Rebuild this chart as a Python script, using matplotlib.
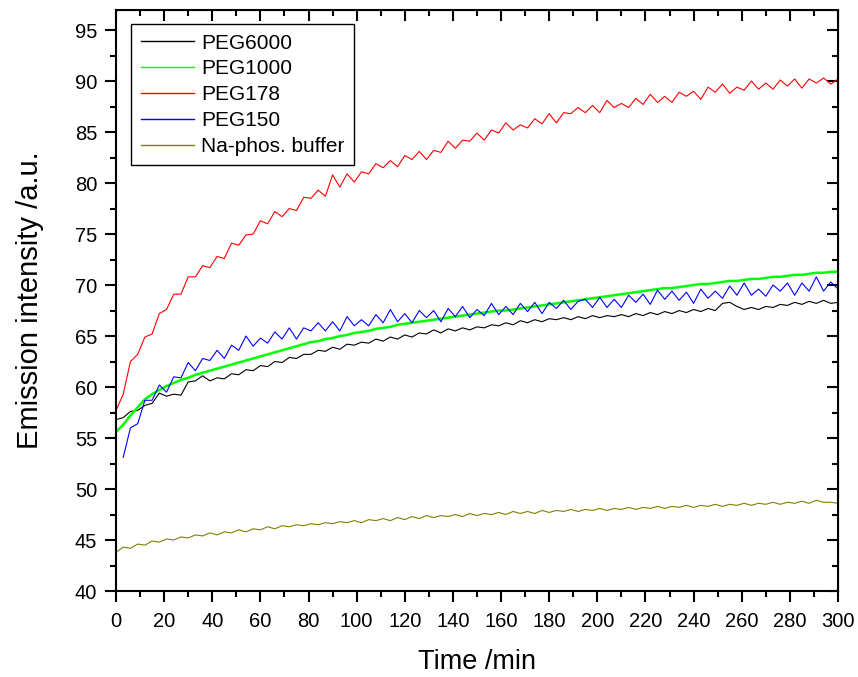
import numpy as np
import matplotlib
matplotlib.use("Agg")
import matplotlib.pyplot as plt
from matplotlib.ticker import MultipleLocator

plt.rcParams["font.family"] = ["Liberation Sans", "DejaVu Sans"]

# sampling times (min), one reading every 3 min
time_min = np.arange(0, 301, 3)

peg6000 = [
    56.8, 57.0, 57.6, 57.7, 58.2, 58.4, 59.4, 59.1, 59.3, 59.2,
    60.5, 60.6, 61.1, 60.6, 60.9, 60.8, 61.3, 61.2, 61.7, 61.6,
    62.1, 62.0, 62.5, 62.4, 62.9, 62.8, 63.2, 63.2, 63.6, 63.5,
    63.9, 63.7, 64.2, 64.1, 64.4, 64.3, 64.7, 64.5, 64.9, 64.7,
    65.1, 64.9, 65.3, 65.2, 65.6, 65.3, 65.7, 65.5, 65.8, 65.6,
    65.9, 65.8, 66.1, 66.0, 66.3, 66.1, 66.5, 66.3, 66.6, 66.4,
    66.7, 66.6, 66.8, 66.6, 66.9, 66.7, 67.0, 66.8, 67.0, 66.9,
    67.1, 66.9, 67.2, 67.0, 67.3, 67.1, 67.4, 67.2, 67.5, 67.3,
    67.6, 67.4, 67.7, 67.5, 68.2, 68.3, 67.9, 67.6, 67.8, 67.6,
    67.9, 67.8, 68.1, 68.0, 68.3, 68.1, 68.4, 68.2, 68.5, 68.2,
    68.3,
]

peg1000 = [
    55.6, 56.3, 57.2, 58.0, 58.8, 59.3, 59.7, 60.1, 60.4, 60.7,
    60.9, 61.2, 61.4, 61.6, 61.8, 62.0, 62.2, 62.4, 62.6, 62.8,
    63.0, 63.2, 63.4, 63.6, 63.8, 64.0, 64.2, 64.4, 64.5, 64.7,
    64.8, 65.0, 65.1, 65.3, 65.4, 65.5, 65.7, 65.8, 65.9, 66.1,
    66.2, 66.3, 66.4, 66.5, 66.6, 66.7, 66.8, 66.9, 67.0, 67.1,
    67.2, 67.3, 67.4, 67.5, 67.5, 67.6, 67.7, 67.8, 67.9, 68.0,
    68.1, 68.2, 68.3, 68.4, 68.5, 68.6, 68.7, 68.8, 68.9, 69.0,
    69.1, 69.2, 69.3, 69.4, 69.5, 69.6, 69.7, 69.7, 69.8, 69.9,
    70.0, 70.1, 70.1, 70.2, 70.3, 70.4, 70.4, 70.5, 70.6, 70.6,
    70.7, 70.8, 70.8, 70.9, 71.0, 71.0, 71.1, 71.2, 71.2, 71.3,
    71.3,
]

peg178 = [
    57.7, 59.3, 62.5, 63.2, 64.9, 65.2, 67.2, 67.6, 69.1, 69.1,
    70.8, 70.8, 71.9, 71.7, 72.8, 72.6, 74.1, 73.9, 74.9, 75.0,
    76.3, 76.0, 77.2, 76.7, 77.5, 77.3, 78.6, 78.5, 79.3, 78.7,
    80.8, 79.6, 80.9, 80.1, 81.1, 80.9, 81.9, 81.5, 82.2, 81.6,
    82.7, 82.3, 83.1, 82.3, 83.2, 83.0, 84.1, 83.4, 84.2, 84.1,
    84.9, 84.2, 85.2, 84.9, 85.9, 85.2, 85.7, 85.4, 86.3, 85.8,
    86.8, 85.9, 86.9, 86.8, 87.4, 86.9, 87.6, 86.9, 88.1, 87.4,
    87.8, 87.4, 88.3, 87.7, 88.7, 87.9, 88.5, 87.9, 88.9, 88.5,
    89.0, 88.2, 89.4, 88.9, 89.7, 88.8, 89.4, 89.1, 90.0, 89.2,
    89.8, 89.2, 90.1, 89.5, 90.2, 89.3, 90.2, 89.8, 90.3, 89.7,
    90.2,
]

peg150 = [
    np.nan, 53.1, 56.0, 56.4, 58.7, 58.7, 60.2, 59.5, 61.0, 60.9,
    62.4, 61.6, 62.8, 62.6, 63.6, 62.8, 64.1, 63.6, 65.0, 64.0,
    64.8, 64.3, 65.4, 64.7, 65.8, 64.7, 65.8, 65.5, 66.3, 65.5,
    66.4, 65.5, 66.9, 66.0, 66.6, 66.0, 67.1, 66.3, 67.6, 66.4,
    67.2, 66.3, 67.5, 66.8, 67.5, 66.4, 67.7, 66.9, 67.9, 66.8,
    67.6, 67.0, 68.2, 67.1, 67.9, 67.1, 68.2, 67.4, 68.3, 67.2,
    68.3, 67.7, 68.5, 67.6, 68.4, 68.6, 67.8, 68.8, 67.8, 68.6,
    67.8, 69.0, 68.3, 69.1, 68.1, 69.5, 68.6, 69.4, 68.5, 69.3,
    68.2, 69.6, 68.7, 69.4, 68.7, 69.9, 69.0, 70.2, 69.0, 69.6,
    68.9, 70.0, 69.4, 70.2, 69.0, 70.2, 69.4, 70.8, 69.4, 70.3,
    69.6,
]

buffer = [
    43.8, 44.3, 44.2, 44.6, 44.5, 44.9, 44.8, 45.1, 45.0, 45.3,
    45.2, 45.5, 45.4, 45.7, 45.5, 45.8, 45.7, 46.0, 45.8, 46.1,
    46.0, 46.3, 46.1, 46.4, 46.3, 46.5, 46.4, 46.6, 46.5, 46.7,
    46.6, 46.8, 46.7, 46.9, 46.7, 47.0, 46.9, 47.1, 46.9, 47.2,
    47.0, 47.3, 47.1, 47.4, 47.2, 47.4, 47.3, 47.5, 47.3, 47.6,
    47.4, 47.6, 47.5, 47.7, 47.5, 47.8, 47.6, 47.8, 47.6, 47.9,
    47.7, 47.9, 47.8, 48.0, 47.8, 48.0, 47.9, 48.1, 47.9, 48.1,
    48.0, 48.2, 48.0, 48.2, 48.1, 48.3, 48.1, 48.3, 48.2, 48.4,
    48.2, 48.4, 48.3, 48.5, 48.3, 48.5, 48.4, 48.6, 48.4, 48.6,
    48.5, 48.7, 48.5, 48.7, 48.6, 48.8, 48.6, 48.9, 48.7, 48.7,
    48.6,
]

series = [
    ("PEG6000", peg6000, "#000000", 0.8),
    ("PEG1000", peg1000, "#00ff00", 1.8),
    ("PEG178", peg178, "#ff0000", 0.8),
    ("PEG150", peg150, "#0000ff", 0.8),
    ("Na-phos. buffer", buffer, "#808000", 0.8),
]

fig = plt.figure(figsize=(8.58, 6.77), dpi=100)
ax = fig.add_axes([0.1352, 0.127, 0.8415, 0.8588])

for name, vals, col, lw in series:
    ax.plot(time_min, vals, color=col, lw=lw, label=name)

ax.set_xlim(0, 300)
ax.set_ylim(40, 97)
ax.xaxis.set_major_locator(MultipleLocator(20))
ax.xaxis.set_minor_locator(MultipleLocator(10))
ax.yaxis.set_major_locator(MultipleLocator(5))
ax.yaxis.set_minor_locator(MultipleLocator(2.5))

for sp in ax.spines.values():
    sp.set_linewidth(1.5)

ax.tick_params(which="both", direction="out", width=1.5, labelsize=14.5,
               top=False, right=False)
ax.tick_params(axis="x", pad=7)
ax.tick_params(axis="y", pad=5.5)
ax.tick_params(which="major", length=8)
ax.tick_params(which="minor", length=4.5)

# mirrored inward ticks on the top and right edges
top = ax.secondary_xaxis("top")
right = ax.secondary_yaxis("right")
for sec in (top, right):
    sec.tick_params(which="both", direction="in", width=1.5,
                    labeltop=False, labelright=False)
    sec.tick_params(which="major", length=8)
    sec.tick_params(which="minor", length=4.5)
top.xaxis.set_major_locator(MultipleLocator(20))
top.xaxis.set_minor_locator(MultipleLocator(10))
right.yaxis.set_major_locator(MultipleLocator(5))
right.yaxis.set_minor_locator(MultipleLocator(2.5))
top.set_xticklabels([])
right.set_yticklabels([])

ax.set_xlabel("Time /min", fontsize=19.5, labelpad=13)
ax.set_ylabel("Emission intensity /a.u.", fontsize=21, labelpad=22)

leg = ax.legend(loc="upper left", bbox_to_anchor=(0.021, 0.975),
                borderaxespad=0, fontsize=15, handlelength=2.55,
                labelspacing=0.33, fancybox=False, framealpha=1,
                edgecolor="black", borderpad=0.45, handletextpad=0.35)
leg.get_frame().set_linewidth(1.0)
for h in leg.get_lines():
    h.set_linewidth(1.0)

fig.savefig("out.png", dpi=100)
